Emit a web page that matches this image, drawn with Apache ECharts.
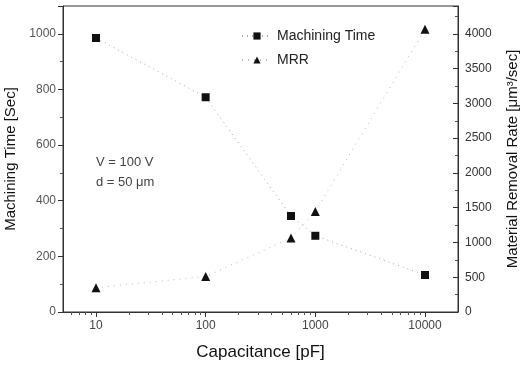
<!DOCTYPE html>
<html>
<head>
<meta charset="utf-8">
<script src="https://cdn.jsdelivr.net/npm/echarts@6/dist/echarts.min.js"></script>
<style>html,body{margin:0;padding:0;background:#fff}#c{width:527px;height:365px}</style>
</head>
<body>
<div id="c"></div>
<script>
const capacitance = [10, 100, 600, 1000, 10000];
const machiningTime = [985, 772, 345, 274, 133];
const mrr = [350, 510, 1065, 1445, 4065];
const xMajorTicks = [10, 100, 1000, 10000];
const xMinorTicks = [6, 7, 8, 9, 20, 30, 40, 50, 60, 70, 80, 90, 200, 300, 400, 500, 600, 700, 800, 900, 2000, 3000, 4000, 5000, 6000, 7000, 8000, 9000];

const font = 'Liberation Sans, Arial, sans-serif';
const plain = v => String(Math.round(v));
const chart = echarts.init(document.getElementById('c'));
chart.setOption({
  animation: false,
  backgroundColor: '#fff',
  grid: { left: 63, right: 69, top: 6, bottom: 53, outerBoundsMode: 'none', containLabel: false, show: true, borderColor: '#333', borderWidth: 1 },
  legend: {
    orient: 'vertical', left: 236, top: 24, itemGap: 10, itemWidth: 30, itemHeight: 9,
    textStyle: { fontFamily: font, fontSize: 14, color: '#222' },
    data: ['Machining Time', 'MRR']
  },
  xAxis: [{
    type: 'log', logBase: 10, min: 5, max: 20000,
    name: 'Capacitance [pF]', nameLocation: 'middle', nameGap: 32,
    nameTextStyle: { fontFamily: font, fontSize: 17, color: '#111' },
    axisLine: { lineStyle: { color: '#333' } },
    axisTick: { customValues: xMajorTicks, length: 5, lineStyle: { color: '#333' } },
    axisLabel: { customValues: xMajorTicks, formatter: plain, fontFamily: font, fontSize: 12, color: '#444', margin: 8 },
    splitLine: { show: false }
  }, {
    type: 'log', logBase: 10, min: 5, max: 20000, position: 'bottom',
    axisLine: { show: false },
    axisTick: { customValues: xMinorTicks, length: 3, lineStyle: { color: '#555' } },
    axisLabel: { show: false },
    splitLine: { show: false }
  }],
  yAxis: [{
    type: 'value', min: 0, max: 1100, interval: 200, position: 'left',
    name: 'Machining Time [Sec]', nameLocation: 'middle', nameGap: 43,
    nameTextStyle: { fontFamily: font, fontSize: 15, color: '#111' },
    axisLine: { show: true, lineStyle: { color: '#333' } },
    axisTick: { show: true, length: 5, lineStyle: { color: '#333' } },
    minorTick: { show: true, splitNumber: 2, length: 3, lineStyle: { color: '#555' } },
    axisLabel: { showMaxLabel: false, formatter: plain, fontFamily: font, fontSize: 12, color: '#555', margin: 7 },
    splitLine: { show: false }
  }, {
    type: 'value', min: 0, max: 4400, interval: 500, position: 'right',
    name: 'Material Removal Rate [μm³/sec]', nameLocation: 'middle', nameGap: 47,
    nameTextStyle: { fontFamily: font, fontSize: 15, color: '#111' },
    axisLine: { show: true, lineStyle: { color: '#333' } },
    axisTick: { show: true, inside: true, length: 5, lineStyle: { color: '#333' } },
    minorTick: { show: true, splitNumber: 2, length: 3, lineStyle: { color: '#555' } },
    axisLabel: { showMaxLabel: false, formatter: plain, fontFamily: font, fontSize: 12, color: '#333', margin: 7 },
    splitLine: { show: false }
  }],
  graphic: [
    { type: 'text', left: 96, top: 156, style: { text: 'V = 100 V', font: '13px ' + font, fill: '#444' } },
    { type: 'text', left: 96, top: 176, style: { text: 'd = 50 μm', font: '13px ' + font, fill: '#444' } }
  ],
  series: [{
    name: 'Machining Time', type: 'line', xAxisIndex: 0, yAxisIndex: 0,
    data: capacitance.map((c, i) => [c, machiningTime[i]]),
    symbol: 'rect', symbolSize: 8,
    itemStyle: { color: '#111' },
    lineStyle: { color: '#aaa', width: 1, type: [1, 4] }
  }, {
    name: 'MRR', type: 'line', xAxisIndex: 0, yAxisIndex: 1,
    data: capacitance.map((c, i) => [c, mrr[i]]),
    symbol: 'triangle', symbolSize: 9,
    itemStyle: { color: '#111' },
    lineStyle: { color: '#bbb', width: 1, type: [1, 5] }
  }]
});
</script>
</body>
</html>
